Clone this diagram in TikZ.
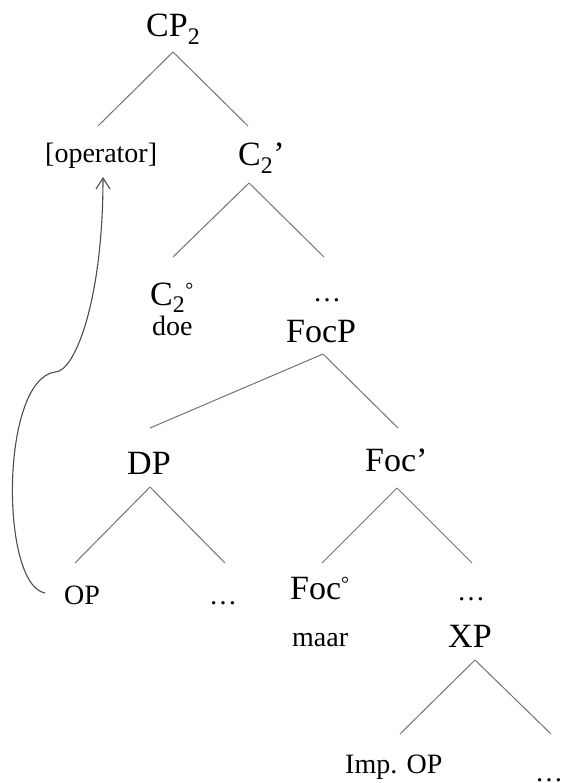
\documentclass[tikz,border=0pt]{standalone}
\usepackage{fontspec}
\setmainfont{Liberation Serif}
\usetikzlibrary{arrows.meta}

% small raised ring for head labels
\newcommand\headring{{\fontsize{20}{20}\selectfont\raisebox{9pt}{°}}}

\tikzset{
  big/.style={font=\fontsize{34}{40}\selectfont, anchor=base west, inner sep=0pt},
  small/.style={font=\fontsize{28}{32}\selectfont, anchor=base west, inner sep=0pt},
  branch/.style={draw=black!55, line width=1pt},
  movement/.style={draw=black!70, line width=1.1pt, -{Straight Barb[length=11pt,width=14pt]}}
}

\begin{document}
\begin{tikzpicture}[x=1pt,y=-1pt]
  \useasboundingbox (0,0) rectangle (561,783);

  % labels
  \node[big] (CP) at (146,37) {CP\textsubscript{2}};
  \node[small] (op) at (45,163) {[operator]};
  \node[big] (Cbar) at (238,166) {C\textsubscript{2}’};
  \node[big] (Czero) at (150,305) {C\textsubscript{2}\headring};
  \node[small] (doe) at (152,335) {doe};
  \node[small] (dotsA) at (313,301) {\dots};
  \node[big] (FocP) at (286,342) {FocP};
  \node[big] (DP) at (127,474) {DP};
  \node[big] (Focbar) at (365,471) {Foc’};
  \node[small] (OP) at (64,604) {OP};
  \node[small] (dotsB) at (209,604) {\dots};
  \node[big] (Foczero) at (290,599) {Foc\headring};
  \node[small] (maar) at (292,646) {maar};
  \node[small] (dotsC) at (457,600) {\dots};
  \node[big] (XP) at (448,647) {XP};
  \node[small] (Imp) at (345,773) {Imp. OP};
  \node[small] (dotsD) at (535,781) {\dots};

  % branch ends
  \coordinate (CP-b) at (173,52);
  \coordinate (op-t) at (98,126);
  \coordinate (Cbar-t) at (248,126);
  \coordinate (Cbar-b) at (249,183);
  \coordinate (Czero-t) at (173,257);
  \coordinate (dotsA-t) at (324,257);
  \coordinate (FocP-b) at (323,354);
  \coordinate (DP-t) at (150,428);
  \coordinate (Focbar-t) at (398,428);
  \coordinate (DP-b) at (150,487);
  \coordinate (OP-t) at (75,563);
  \coordinate (dotsB-t) at (225,563);
  \coordinate (Focbar-b) at (397,488);
  \coordinate (Foczero-t) at (322,563);
  \coordinate (dotsC-t) at (472,563);
  \coordinate (XP-b) at (475,660);
  \coordinate (Imp-t) at (400,734);
  \coordinate (dotsD-t) at (551,734);

  \draw[branch] (CP-b)--(op-t);
  \draw[branch] (CP-b)--(Cbar-t);
  \draw[branch] (Cbar-b)--(Czero-t);
  \draw[branch] (Cbar-b)--(dotsA-t);
  \draw[branch] (FocP-b)--(DP-t);
  \draw[branch] (FocP-b)--(Focbar-t);
  \draw[branch] (DP-b)--(OP-t);
  \draw[branch] (DP-b)--(dotsB-t);
  \draw[branch] (Focbar-b)--(Foczero-t);
  \draw[branch] (Focbar-b)--(dotsC-t);
  \draw[branch] (XP-b)--(Imp-t);
  \draw[branch] (XP-b)--(dotsD-t);

  % operator movement
  \coordinate (mv-start) at (45,593);
  \coordinate (mv-kink) at (55,372);
  \coordinate (mv-end) at (103,177);
  \draw[movement] (mv-start) .. controls (0,585) and (0,380) .. (mv-kink)
    .. controls (75,372) and (103,300) .. (mv-end);
\end{tikzpicture}
\end{document}
